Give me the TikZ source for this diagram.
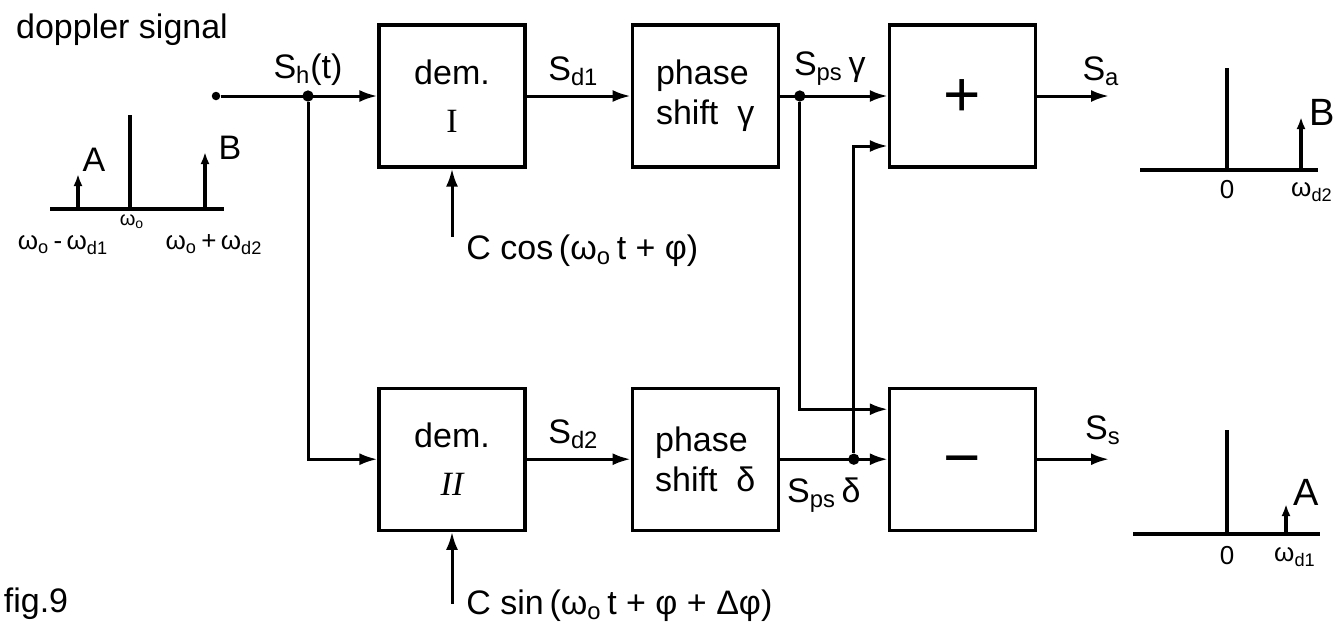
\documentclass[tikz,border=0pt]{standalone}
\usepackage{fontspec}
\setmainfont{Liberation Sans}
\newfontfamily\romfont{Liberation Serif}
\usetikzlibrary{arrows.meta,positioning,calc}
\newcommand{\lbl}{\fontsize{17}{20}\selectfont}
\newcommand{\bigfnt}{\fontsize{19}{22}\selectfont}
\newcommand{\midfnt}{\fontsize{17}{20}\selectfont}
\newcommand{\smll}{\fontsize{13}{15}\selectfont}
\newcommand{\sbs}[1]{\textsubscript{#1}}
\tikzset{
  blk/.style  = {draw, line width=1.6pt, minimum width=73pt, minimum height=71pt,
                 align=center, font=\lbl, inner sep=0pt},
  opblk/.style = {blk, font=\fontsize{32}{32}\selectfont, text height=20.5pt, text depth=0pt},
  sig/.style  = {-{Latex[length=9pt,width=6pt]}, line width=1.5pt},
  jdot/.style = {circle, fill, inner sep=2pt},
  txt/.style  = {font=\lbl, inner sep=1pt},
  spec/.style = {line width=1.6pt},
  tip/.style  = {-{Latex[length=6pt,width=4.5pt]}},
}

\begin{document}
\begin{tikzpicture}[x=0.5pt, y=-0.5pt]
\useasboundingbox (0,0) rectangle (1339,634);

% upper branch
\node[blk] (dem1) at (452,96) {dem.\\[4pt]{\romfont I}};
\node[blk, right=52pt of dem1, align=left] (psg) {phase\\shift\ \ γ};
\node[opblk, right=54pt of psg] (plus) {+};

% lower branch
\node[blk, below=109pt of dem1] (dem2) {dem.\\[4pt]{\romfont\itshape II}};
\node[blk, right=52pt of dem2, align=left] (psd) {phase\\shift\ \ δ};
\node[opblk, right=54pt of psd] (minus) {−};

% input and split
\node[jdot, inner sep=1.5pt] (in) at (216,96) {};
\node[jdot] (j1) at (308,96) {};
\draw[sig] (in) -- (dem1.west);
\draw[sig] (j1) |- (dem2.west);
\node[txt, above=4pt] (lsh) at (j1) {S\sbs{h}(t)};

% demodulator outputs
\draw[sig] (dem1) -- (psg);
\draw[sig] (dem2) -- (psd);
\node[txt, above=4pt] (lsd1) at ($(dem1.east)!0.45!(psg.west)$) {S\sbs{d1}};
\node[txt, above=4pt] (lsd2) at ($(dem2.east)!0.45!(psd.west)$) {S\sbs{d2}};

% reference carriers
\coordinate (c1) at ($(dem1.south)+(0,68)$);
\coordinate (c2) at ($(dem2.south)+(0,72)$);
\draw[sig] (c1) -- (dem1.south);
\draw[sig] (c2) -- (dem2.south);
\node[txt, anchor=west] (lc1) at ($(c1)+(12,14)$) {C cos\,(ω\sbs{o}\,t + φ)};
\node[txt, anchor=west] (lc2) at ($(c2)+(12,2)$) {C sin\,(ω\sbs{o}\,t + φ + Δφ)};

% cross connections
\node[jdot] (j2) at ($(psg.east)+(20,0)$) {};
\node[jdot] (j3) at ($(psd.east)+(74,0)$) {};
\coordinate (p2) at ([yshift=-25pt]plus.west);
\coordinate (m1) at ([yshift=25pt]minus.west);
\draw[sig] (psg) -- (plus);
\draw[sig] (psd) -- (minus);
\draw[sig] (j2) |- (m1);
\draw[sig] (j3) |- (p2);
\node[txt, above=4pt] (lpsg) at ($(j2)+(30,0)$) {S\sbs{ps}\,γ};
\node[txt, below=8pt] (lpsd) at ($(j3)+(-30,0)$) {S\sbs{ps}\,δ};

% outputs
\coordinate (sa) at ($(plus.east)+(72,0)$);
\coordinate (ss) at ($(minus.east)+(72,0)$);
\draw[sig] (plus) -- (sa);
\draw[sig] (minus) -- (ss);
\node[txt, above=4pt] (lsa) at ($(sa)+(-8,0)$) {S\sbs{a}};
\node[txt, above=6pt] (lss) at ($(ss)+(-6,0)$) {S\sbs{s}};

% input spectrum
\node[txt] (ttl) at (122,30) {doppler signal};
\draw[spec] (50,209) -- (224,209);
\draw[spec] (130,115) -- (130,209);
\draw[spec, tip] (78,209) -- (78,174);
\draw[spec, tip] (205,209) -- (205,152);
\node[txt, font=\midfnt] (la) at (94,160) {A};
\node[txt, font=\midfnt] (lb) at (230,148) {B};
\node[txt, font=\fontsize{10}{12}\selectfont] (lw0) at (132,222) {ω\sbs{o}};
\node[txt, font=\smll] (lw1) at (63,245) {ω\sbs{o}\,-\,ω\sbs{d1}};
\node[txt, font=\smll] (lw2) at (214,245) {ω\sbs{o}\,+\,ω\sbs{d2}};

% spectrum of S_a
\draw[spec] (1140,170) -- (1318,170);
\draw[spec] (1227,68) -- (1227,170);
\draw[spec, tip] (1301,170) -- (1301,117);
\node[txt, font=\bigfnt] (ra) at (1322,112) {B};
\node[txt, font=\smll] (ra0) at (1227,190) {0};
\node[txt, font=\smll] (raw) at (1312,192) {ω\sbs{d2}};

% spectrum of S_s
\draw[spec] (1133,534) -- (1320,534);
\draw[spec] (1227,430) -- (1227,534);
\draw[spec, tip] (1286,534) -- (1286,504);
\node[txt, font=\bigfnt] (rs) at (1306,492) {A};
\node[txt, font=\smll] (rs0) at (1227,556) {0};
\node[txt, font=\smll] (rsw) at (1295,557) {ω\sbs{d1}};

\node[txt] (fig) at (36,604) {fig.9};
\end{tikzpicture}
\end{document}
